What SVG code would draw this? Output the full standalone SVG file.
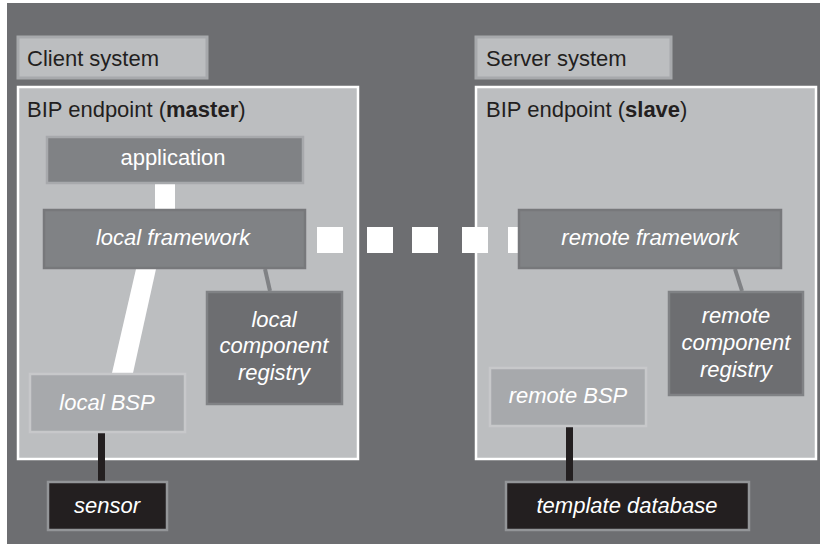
<svg xmlns="http://www.w3.org/2000/svg" width="820" height="544" viewBox="0 0 820 544">
<style>
text{font-family:"Liberation Sans",Arial,Helvetica,sans-serif;font-size:22px}
.lbl{fill:#231f20}
.w{fill:#ffffff;font-style:italic;text-anchor:middle}
.wn{fill:#ffffff;text-anchor:middle}
.sys{fill:#bcbec0;stroke:#a7a9ac;stroke-width:3}
.ep{fill:#bcbec0;stroke:#ffffff;stroke-width:2.5}
.app{fill:#808285;stroke:#a7a9ac;stroke-width:2.5}
.fw{fill:#808285;stroke:#77787b;stroke-width:2.5}
.reg{fill:#6d6e71;stroke:#808285;stroke-width:2.5}
.bsp{fill:#a7a9ac;stroke:#c7c8ca;stroke-width:2.5}
.ext{fill:#231f20;stroke:#939598;stroke-width:2.5}
</style>
<rect x="7" y="3" width="813" height="541" fill="#6d6e71"/>
<g id="client-system"><rect class="sys" x="18" y="37" width="189" height="41"/><text class="lbl" x="27" y="66">Client system</text></g>
<g id="server-system"><rect class="sys" x="476" y="37" width="195" height="41"/><text class="lbl" x="486" y="66">Server system</text></g>
<g id="master-endpoint"><rect class="ep" x="18" y="87" width="340" height="372"/><text class="lbl" x="27" y="117">BIP endpoint (<tspan font-weight="bold">master</tspan>)</text></g>
<g id="slave-endpoint"><rect class="ep" x="476" y="87" width="340" height="372"/><text class="lbl" x="486" y="117">BIP endpoint (<tspan font-weight="bold">slave</tspan>)</text></g>
<g id="connectors">
<rect x="155" y="183" width="20" height="27" fill="#ffffff"/>
<polygon points="136,269 156,269 133,373 112,373" fill="#ffffff"/>
<line x1="265" y1="269" x2="270" y2="291" stroke="#808285" stroke-width="4"/>
<line x1="735" y1="269" x2="742" y2="291" stroke="#808285" stroke-width="4"/>
<rect x="98" y="433" width="7" height="48" fill="#231f20"/>
<rect x="566" y="427" width="7" height="54" fill="#231f20"/>
<g fill="#ffffff">
<rect x="317" y="227" width="26" height="26"/>
<rect x="367" y="227" width="26" height="26"/>
<rect x="412" y="227" width="26" height="26"/>
<rect x="462" y="227" width="26" height="26"/>
<rect x="508" y="227" width="12" height="26"/>
</g>
</g>
<g id="application"><rect class="app" x="47" y="137" width="256" height="46"/><text class="wn" x="173" y="165">application</text></g>
<g id="local-framework"><rect class="fw" x="44" y="210" width="261" height="58"/><text class="w" x="173" y="245">local framework</text></g>
<g id="remote-framework"><rect class="fw" x="519" y="210" width="262" height="58"/><text class="w" x="650" y="245">remote framework</text></g>
<g id="local-registry"><rect class="reg" x="207" y="292" width="135" height="112"/><text class="w" x="274" y="327">local</text><text class="w" x="274" y="353">component</text><text class="w" x="274" y="380">registry</text></g>
<g id="remote-registry"><rect class="reg" x="669" y="292" width="134" height="103"/><text class="w" x="736" y="323">remote</text><text class="w" x="736" y="350">component</text><text class="w" x="736" y="377">registry</text></g>
<g id="local-bsp"><rect class="bsp" x="30" y="374" width="155" height="58"/><text class="w" x="107" y="410">local BSP</text></g>
<g id="remote-bsp"><rect class="bsp" x="490" y="368" width="156" height="58"/><text class="w" x="568" y="403">remote BSP</text></g>
<g id="sensor"><rect class="ext" x="48" y="482" width="119" height="48"/><text class="w" x="107" y="513">sensor</text></g>
<g id="template-database"><rect class="ext" x="506" y="482" width="243" height="48"/><text class="w" x="627" y="513">template database</text></g>
</svg>
